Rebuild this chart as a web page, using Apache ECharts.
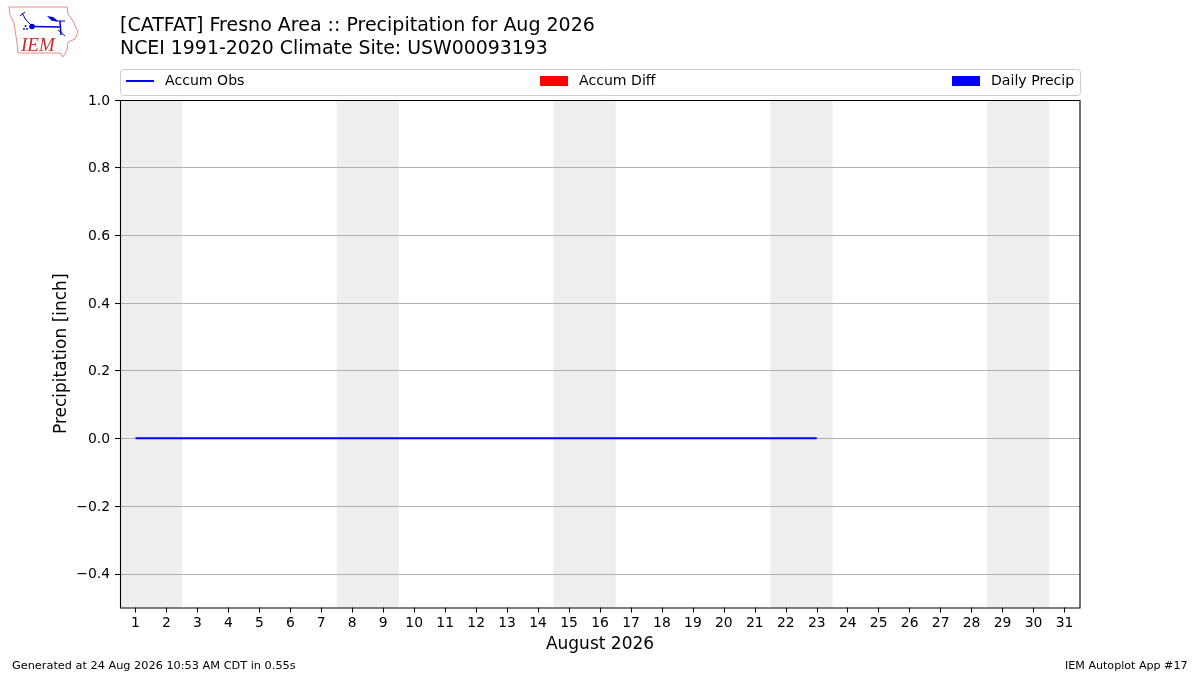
<!DOCTYPE html>
<html><head><meta charset="utf-8">
<style>html,body{margin:0;padding:0;background:#fff}#c{width:1200px;height:675px}</style>
<script src="https://cdn.jsdelivr.net/npm/echarts@6/dist/echarts.min.js"></script>
</head><body><div id="c"></div>
<script>
const days = ['1','2','3','4','5','6','7','8','9','10','11','12','13','14','15','16','17','18','19','20','21','22','23','24','25','26','27','28','29','30','31'];
const accumObs = [0,0,0,0,0,0,0,0,0,0,0,0,0,0,0,0,0,0,0,0,0,0,0];
const accumDiff = [0,0,0,0,0,0,0,0,0,0,0,0,0,0,0,0,0,0,0,0,0,0,0];
const dailyPrecip = [0,0,0,0,0,0,0,0,0,0,0,0,0,0,0,0,0,0,0,0,0,0,0];
const weekendDays = ['1','2','8','9','15','16','22','23','29','30'];
const yTicks = [-0.4,-0.2,0,0.2,0.4,0.6,0.8,1.0];
const yTop = 1.0, yBottom = -0.5;
const shadeUp = days.map(d => weekendDays.includes(d) ? yTop : null);
const shadeDown = days.map(d => weekendDays.includes(d) ? yBottom : null);
const FONT = '"DejaVu Sans"';
const chart = echarts.init(document.getElementById('c'), null, {renderer:'canvas'});
const txt = (left, top, text, size) => ({left, top, text, padding:0, textStyle:{fontFamily:FONT, fontSize:size, fontWeight:'normal', color:'#000'}});
const legendBase = {top:74, orient:'horizontal', itemGap:0, padding:0, textStyle:{fontFamily:FONT,fontSize:14.1,color:'#000',padding:[4,0,0,6]}, itemWidth:28, itemHeight:10, selectedMode:false};
const line = (points, w) => ({type:'polyline',z:5,shape:{points},style:{stroke:'#0000cc',lineWidth:w,fill:'none'}});
chart.setOption({
  animation:false,
  backgroundColor:'#fff',
  title:[
    txt(120,17,'[CATFAT] Fresno Area :: Precipitation for Aug 2026',19),
    txt(120,40,'NCEI 1991-2020 Climate Site: USW00093193',18.9),
    txt(12,661,'Generated at 24 Aug 2026 10:53 AM CDT in 0.55s',11.3),
    txt(1065,661,'IEM Autoplot App #17',11.1)
  ],
  legend:[
    Object.assign({},legendBase,{left:126,data:[{name:'Accum Obs',icon:'path://M0 4H28V6H0Z'}]}),
    Object.assign({},legendBase,{left:540,data:[{name:'Accum Diff',icon:'rect'}]}),
    Object.assign({},legendBase,{left:952,data:[{name:'Daily Precip',icon:'rect'}]})
  ],
  grid:{left:120,top:99.9,width:960,height:507.7,show:false,containLabel:false},
  xAxis:{type:'category',data:days,boundaryGap:true,z:2,
    name:'August 2026',nameLocation:'middle',nameGap:28,nameMoveOverlap:false,nameTextStyle:{fontFamily:FONT,fontSize:17,color:'#000'},
    axisLine:{show:false,onZero:false},
    axisTick:{show:true,alignWithLabel:true,length:5,lineStyle:{color:'#000',width:1.1}},
    axisLabel:{show:true,interval:0,fontFamily:FONT,fontSize:13.9,color:'#000',margin:9},
    splitLine:{show:false}},
  yAxis:{type:'value',min:yBottom,max:yTop,interval:0.1,z:2,
    name:'Precipitation [inch]',nameLocation:'middle',nameGap:50,nameMoveOverlap:false,nameTextStyle:{fontFamily:FONT,fontSize:17,color:'#000'},
    axisLine:{show:false},
    axisTick:{show:true,length:5,customValues:yTicks,lineStyle:{color:'#000',width:1.1}},
    axisLabel:{show:true,customValues:yTicks,fontFamily:FONT,fontSize:13.9,color:'#000',margin:10,verticalAlign:'top',lineHeight:2,
      formatter:v=>v.toFixed(1).replace('-','\u2212')},
    splitLine:{show:true,lineStyle:{color:'#b0b0b0',width:1.1}}},
  series:[
    {name:'shade up',type:'bar',stack:'shade',data:shadeUp,barWidth:31.3,itemStyle:{color:'#eeeeee'},z:1,silent:true},
    {name:'shade down',type:'bar',stack:'shade',data:shadeDown,barWidth:31.3,itemStyle:{color:'#eeeeee'},z:1,silent:true},
    {name:'Accum Diff',type:'bar',data:accumDiff,barWidth:'100%',barGap:'-100%',itemStyle:{color:'#ff0000'},z:3},
    {name:'Daily Precip',type:'bar',data:dailyPrecip,barWidth:'100%',barGap:'-100%',itemStyle:{color:'#0000ff'},z:3},
    {name:'Accum Obs',type:'line',data:accumObs,showSymbol:false,symbol:'none',lineStyle:{color:'#0000ff',width:2},itemStyle:{color:'#0000ff'},z:4}
  ],
  graphic:[
    {type:'rect',z:0,shape:{x:120.5,y:69.5,width:960,height:26,r:3},style:{fill:'#fff',stroke:'#cccccc',lineWidth:1}},
    {type:'rect',z:6,shape:{x:120.5,y:100.5,width:959.5,height:507.5},style:{fill:'none',stroke:'#000',lineWidth:1.1}},
    {type:'polygon',z:5,shape:{points:[[9,7],[67,7],[68,14],[73,21],[78,32],[75,39],[68,42],[67,50],[63,57],[60,53],[18,53],[17,43],[14,23],[10,15]]},style:{fill:'none',stroke:'#e88a8a',lineWidth:1}},
    line([[32,26.5],[60,27]],1.5),
    line([[32,26],[26,20],[22,13]],1),
    line([[20,16],[25,12]],1),
    line([[60,21],[61,35]],1.5),
    line([[55,21],[65,21]],1),
    line([[58,30],[65,36]],1),
    {type:'polygon',z:5,shape:{points:[[47,16],[53,17],[58,21],[52,21]]},style:{fill:'#0000cc'}},
    {type:'circle',z:5,shape:{cx:32,cy:26.5,r:2.8},style:{fill:'#0000cc'}},
    {type:'circle',z:5,shape:{cx:24,cy:29,r:0.9},style:{fill:'#0000cc'}},
    {type:'circle',z:5,shape:{cx:27,cy:29,r:0.9},style:{fill:'#0000cc'}},
    {type:'circle',z:5,shape:{cx:25.5,cy:26,r:0.9},style:{fill:'#0000cc'}},
    {type:'text',z:5,left:21,top:36,style:{text:'IEM',font:'italic 19px "Liberation Serif"',fill:'#d62728'}}
  ]
});
</script></body></html>
